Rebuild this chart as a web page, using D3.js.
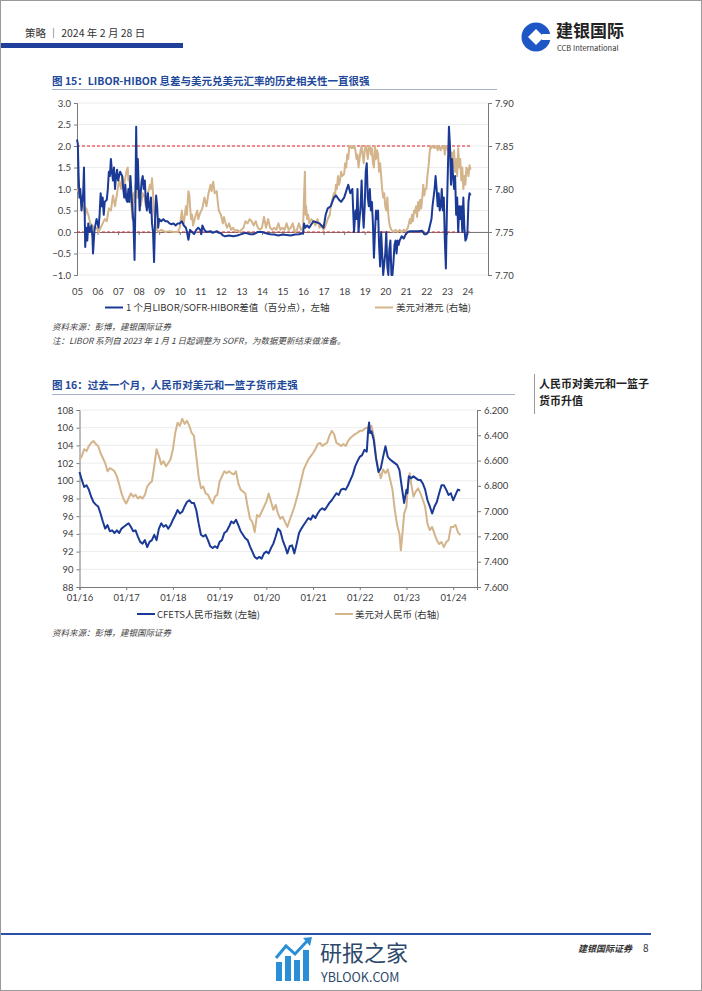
<!DOCTYPE html>
<html><head><meta charset="utf-8">
<script src="https://cdn.jsdelivr.net/npm/d3@7"></script>
<style>
body{margin:0;background:#fff;}
svg{display:block;}
text{font-family:"Noto Sans CJK SC","Noto Sans",sans-serif;}
.ax text{font-family:Lato,"Noto Sans",sans-serif;font-size:9.5px;fill:#404040;}
.ax path,.ax line{stroke:#7a7a7a;}
</style></head><body>
<svg id="page" width="702" height="991"></svg>
<script>
// ---------- Chart 15 data ----------
const c1TickYears = [2005,2006,2007,2008,2009,2010,2011,2012,2013,2014,2015,2016,2017,2018,2019,2020,2021,2022,2023,2024];
const c1TickLabels = ["05","06","07","08","09","10","11","12","13","14","15","16","17","18","19","20","21","22","23","24"];
const c1LeftTicks = [-1.0,-0.5,0.0,0.5,1.0,1.5,2.0,2.5,3.0];
const c1RightTicks = [7.70,7.75,7.80,7.85,7.90];
const c1RefLines = [2.0, 0.0];

const spreadT = [2005.00,2005.04,2005.08,2005.12,2005.16,2005.22,2005.30,2005.34,2005.37,2005.40,2005.45,2005.50,2005.55,2005.62,2005.70,2005.75,2005.78,2005.85,2005.95,
2006.05,2006.10,2006.15,2006.20,2006.25,2006.30,2006.35,2006.45,2006.50,2006.55,2006.60,2006.65,2006.70,2006.75,2006.80,2006.85,2006.90,2006.95,
2007.00,2007.10,2007.20,2007.25,2007.30,2007.35,2007.40,2007.45,2007.50,2007.55,2007.60,2007.65,2007.70,2007.75,2007.80,2007.84,2007.88,2007.92,2007.96,
2008.00,2008.05,2008.10,2008.15,2008.20,2008.25,2008.30,2008.35,2008.40,2008.45,2008.50,2008.55,2008.60,2008.65,2008.70,2008.75,2008.80,2008.85,2008.90,2008.95,
2009.00,2009.10,2009.20,2009.30,2009.40,2009.50,2009.60,2009.70,2009.80,2009.90,
2010.00,2010.10,2010.20,2010.30,2010.35,2010.42,2010.50,2010.60,2010.70,2010.80,2010.90,
2011.00,2011.05,2011.10,2011.20,2011.30,2011.50,2011.60,2011.80,2011.90,
2012.00,2012.10,2012.20,2012.40,2012.60,2012.80,2013.00,2013.20,2013.40,2013.60,2013.80,
2014.00,2014.20,2014.40,2014.60,2014.80,2015.00,2015.20,2015.40,2015.60,2015.80,
2016.00,2016.05,2016.10,2016.20,2016.30,2016.50,2016.80,2017.00,2017.10,2017.20,2017.35,2017.50,2017.60,2017.75,2017.85,
2018.00,2018.10,2018.20,2018.30,2018.40,2018.48,2018.55,2018.60,2018.65,2018.70,2018.80,2018.85,2018.90,2018.95,
2019.00,2019.05,2019.10,2019.15,2019.20,2019.25,2019.30,2019.35,2019.40,2019.45,2019.50,2019.55,2019.60,2019.65,2019.70,2019.75,2019.80,2019.85,2019.90,
2020.00,2020.05,2020.10,2020.15,2020.20,2020.25,2020.30,2020.35,2020.40,2020.45,2020.50,2020.55,2020.60,2020.65,2020.70,2020.80,2020.90,
2021.00,2021.10,2021.20,2021.40,2021.60,2021.80,2021.90,
2022.00,2022.10,2022.15,2022.25,2022.30,2022.40,2022.45,2022.50,2022.55,2022.60,2022.65,2022.70,2022.75,2022.80,2022.85,2022.90,2022.95,
2023.00,2023.05,2023.10,2023.15,2023.20,2023.25,2023.30,2023.35,2023.40,2023.45,2023.50,2023.55,2023.60,2023.65,2023.70,2023.75,2023.80,2023.85,2023.90,2023.95,
2024.00,2024.05,2024.10,2024.15];
const spreadV = [2.15,2.05,1.3,0.8,1.0,0.5,0.9,1.5,0.6,-0.35,0.1,-0.2,0.2,0.0,0.15,-0.1,-0.5,0.05,0.3,
0.1,0.4,0.9,0.6,0.8,0.4,0.7,0.75,1.0,1.4,1.3,1.7,1.4,1.2,1.5,1.0,1.3,1.45,
1.2,1.4,1.3,1.0,0.8,1.1,0.75,0.7,1.0,0.7,1.3,0.9,0.5,0.2,-0.65,0.6,2.45,1.0,1.7,
1.1,0.5,0.9,1.2,1.3,1.0,1.2,0.7,0.5,0.9,0.6,0.45,0.8,0.2,0.0,-0.7,0.3,0.85,0.6,0.1,
0.3,0.25,0.3,0.25,0.25,0.2,0.18,0.2,0.15,0.2,
0.2,0.25,0.15,0.1,0.0,-0.18,0.05,0.0,-0.05,0.05,0.1,
0.05,-0.05,0.15,0.05,0.0,0.02,-0.02,0.02,-0.02,
-0.03,-0.08,-0.1,-0.08,-0.1,-0.08,-0.05,-0.02,-0.05,-0.05,0.0,
0.0,-0.03,-0.05,-0.06,-0.08,-0.06,-0.07,-0.08,-0.06,-0.05,
-0.03,0.2,0.1,0.15,0.1,0.25,0.2,0.1,0.4,0.55,0.6,0.8,0.85,0.75,0.7,
0.8,0.95,1.1,0.9,1.0,0.0,0.5,0.3,1.0,0.0,0.6,1.2,0.5,0.1,
0.6,1.4,1.6,0.8,0.6,1.0,0.5,0.7,0.2,-0.6,0.0,0.5,0.3,0.5,-0.3,-0.8,0.0,-0.5,-1.0,
-0.5,0.0,-0.8,-1.0,-0.4,-0.2,-1.0,-1.0,-0.7,-0.3,-0.2,-0.5,-0.2,-0.3,-0.2,-0.1,-0.15,
-0.05,0.0,0.02,0.02,0.02,0.03,-0.05,
-0.05,0.0,0.1,0.3,0.6,1.0,1.3,1.0,0.6,0.9,0.5,0.6,1.0,0.5,0.8,-0.2,-0.85,
0.5,1.5,2.45,2.0,1.1,1.7,1.3,1.0,1.3,0.4,0.8,0.0,0.6,0.3,0.6,0.0,0.8,0.1,-0.2,-0.15,
0.0,0.7,0.9,0.85];

const hkdT = [2005.00,2005.05,2005.15,2005.20,2005.30,2005.40,2005.45,2005.55,2005.65,2005.75,2005.85,2005.95,
2006.05,2006.15,2006.25,2006.35,2006.45,2006.55,2006.65,2006.75,2006.85,2006.95,
2007.05,2007.15,2007.20,2007.30,2007.40,2007.47,2007.50,2007.55,2007.60,2007.65,2007.70,2007.75,2007.80,2007.85,2007.90,2007.95,
2008.00,2008.10,2008.20,2008.30,2008.35,2008.45,2008.55,2008.60,2008.65,2008.70,2008.75,2008.80,2008.85,2008.95,
2009.10,2009.30,2009.50,2009.70,2009.90,
2010.00,2010.10,2010.15,2010.20,2010.30,2010.35,2010.42,2010.47,2010.50,2010.55,2010.60,2010.65,2010.75,2010.85,2010.90,
2011.00,2011.10,2011.20,2011.30,2011.40,2011.50,2011.55,2011.63,2011.70,2011.80,2011.85,2011.90,
2012.00,2012.10,2012.15,2012.20,2012.30,2012.40,2012.50,2012.60,2012.70,2012.80,2012.90,
2013.00,2013.10,2013.20,2013.30,2013.40,2013.50,2013.60,2013.70,2013.80,2013.90,
2014.00,2014.10,2014.20,2014.30,2014.40,2014.50,2014.60,2014.70,2014.80,2014.90,
2015.00,2015.10,2015.20,2015.30,2015.40,2015.50,2015.60,2015.70,2015.80,2015.90,
2016.00,2016.04,2016.09,2016.12,2016.15,2016.20,2016.25,2016.30,2016.40,2016.50,2016.60,2016.70,2016.80,2016.90,
2017.00,2017.10,2017.20,2017.30,2017.35,2017.40,2017.50,2017.55,2017.60,2017.65,2017.70,2017.75,2017.80,2017.85,2017.90,
2018.00,2018.05,2018.10,2018.15,2018.20,2018.25,2018.30,2018.35,2018.40,2018.45,2018.50,2018.55,2018.60,2018.65,2018.70,2018.75,2018.80,2018.85,2018.90,2018.95,
2019.00,2019.05,2019.10,2019.15,2019.20,2019.25,2019.30,2019.35,2019.40,2019.45,2019.50,2019.55,2019.60,2019.65,2019.70,2019.75,2019.80,2019.85,2019.90,2019.95,
2020.00,2020.05,2020.10,2020.15,2020.20,2020.25,2020.30,2020.40,2020.50,2020.60,2020.70,2020.80,2020.90,
2021.00,2021.10,2021.20,2021.25,2021.30,2021.35,2021.40,2021.45,2021.50,2021.55,2021.60,2021.65,2021.70,2021.75,2021.80,2021.85,2021.90,2021.95,
2022.00,2022.05,2022.10,2022.15,2022.20,2022.25,2022.30,2022.40,2022.50,2022.55,2022.60,2022.70,2022.75,2022.80,2022.85,2022.90,2022.95,
2023.00,2023.05,2023.10,2023.15,2023.20,2023.25,2023.30,2023.35,2023.40,2023.45,2023.50,2023.55,2023.60,2023.65,2023.70,2023.75,2023.80,2023.85,2023.90,2023.95,
2024.00,2024.05,2024.10,2024.15];
const hkdV = [7.800,7.7975,7.795,7.785,7.780,7.770,7.7775,7.770,7.760,7.7575,7.7525,7.755,
7.750,7.755,7.760,7.765,7.7625,7.7775,7.775,7.7925,7.780,7.795,
7.810,7.800,7.815,7.805,7.820,7.825,7.810,7.815,7.795,7.780,7.765,7.795,7.785,7.805,7.810,7.790,
7.800,7.780,7.795,7.790,7.780,7.795,7.805,7.800,7.8125,7.795,7.775,7.765,7.755,7.750,
7.7525,7.750,7.751,7.750,7.750,
7.755,7.775,7.765,7.760,7.780,7.770,7.7975,7.7925,7.780,7.765,7.770,7.7575,7.7675,7.775,7.765,
7.7725,7.7775,7.790,7.780,7.795,7.805,7.7975,7.8085,7.795,7.7975,7.785,7.775,
7.770,7.760,7.7675,7.7625,7.755,7.760,7.7525,7.755,7.751,7.7525,7.750,
7.7525,7.755,7.7625,7.760,7.765,7.7625,7.7575,7.7625,7.755,7.7525,
7.755,7.7675,7.755,7.765,7.755,7.7525,7.755,7.7525,7.760,7.7525,
7.755,7.7525,7.760,7.7525,7.755,7.760,7.750,7.7525,7.760,7.7525,
7.755,7.785,7.820,7.770,7.780,7.765,7.770,7.760,7.765,7.7625,7.7575,7.765,7.755,7.7575,
7.7525,7.7575,7.765,7.770,7.780,7.785,7.795,7.790,7.805,7.800,7.815,7.805,7.810,7.820,7.815,
7.8175,7.830,7.825,7.840,7.835,7.850,7.850,7.8475,7.850,7.8475,7.850,7.845,7.835,7.840,7.825,7.835,7.845,7.850,7.840,7.830,
7.845,7.850,7.845,7.835,7.850,7.850,7.840,7.8475,7.830,7.825,7.850,7.835,7.845,7.840,7.820,7.830,7.815,7.800,7.790,7.795,
7.780,7.775,7.790,7.770,7.760,7.755,7.7525,7.750,7.7525,7.750,7.7525,7.750,7.7525,
7.751,7.755,7.765,7.760,7.770,7.7625,7.775,7.7725,7.780,7.7675,7.785,7.775,7.7875,7.7775,7.790,7.805,7.7925,7.800,
7.800,7.815,7.825,7.840,7.850,7.8475,7.850,7.8475,7.850,7.845,7.850,7.845,7.850,7.8475,7.850,7.840,7.850,
7.850,7.845,7.850,7.8475,7.830,7.8425,7.825,7.845,7.820,7.835,7.815,7.8475,7.825,7.835,7.810,7.825,7.800,7.815,7.805,7.825,
7.8225,7.815,7.8275,7.8225];

// ---------- Chart 16 data ----------
const c2TickYears = [2016,2017,2018,2019,2020,2021,2022,2023,2024];
const c2TickLabels = ["01/16","01/17","01/18","01/19","01/20","01/21","01/22","01/23","01/24"];
const c2LeftTicks = [88,90,92,94,96,98,100,102,104,106,108];
const c2RightTicks = [6.2,6.4,6.6,6.8,7.0,7.2,7.4,7.6];

const cfetsT = [2016.00,2016.05,2016.10,2016.15,2016.20,2016.25,2016.30,2016.35,2016.40,2016.45,2016.50,2016.55,2016.60,2016.65,2016.70,2016.75,2016.80,2016.85,2016.90,2016.95,
2017.00,2017.05,2017.10,2017.15,2017.20,2017.25,2017.30,2017.35,2017.40,2017.45,2017.50,2017.55,2017.60,2017.65,2017.70,2017.75,2017.80,2017.85,2017.90,2017.95,
2018.00,2018.05,2018.10,2018.15,2018.20,2018.25,2018.30,2018.35,2018.40,2018.45,2018.50,2018.55,2018.60,2018.65,2018.70,2018.75,2018.80,2018.85,2018.90,2018.95,
2019.00,2019.05,2019.10,2019.15,2019.20,2019.25,2019.30,2019.35,2019.40,2019.45,2019.50,2019.55,2019.60,2019.65,2019.70,2019.75,2019.80,2019.85,2019.90,2019.95,
2020.00,2020.05,2020.10,2020.15,2020.20,2020.25,2020.30,2020.35,2020.40,2020.45,2020.50,2020.55,2020.60,2020.65,2020.70,2020.75,2020.80,2020.85,2020.90,2020.95,
2021.00,2021.05,2021.10,2021.15,2021.20,2021.25,2021.30,2021.35,2021.40,2021.45,2021.50,2021.55,2021.60,2021.65,2021.70,2021.75,2021.80,2021.85,2021.90,2021.95,
2022.00,2022.05,2022.10,2022.15,2022.18,2022.20,2022.22,2022.25,2022.30,2022.35,2022.40,2022.45,2022.50,2022.55,2022.60,2022.65,2022.70,2022.75,2022.80,2022.85,2022.90,2022.95,
2023.00,2023.02,2023.05,2023.10,2023.15,2023.20,2023.25,2023.30,2023.35,2023.40,2023.45,2023.50,2023.55,2023.60,2023.65,2023.70,2023.75,2023.80,2023.85,2023.90,2023.95,
2024.00,2024.05,2024.10,2024.15];
const cfetsV = [101.0,100.1,99.3,99.5,99.0,98.2,97.6,97.3,97.1,96.3,95.4,94.6,95.0,94.3,94.4,94.1,94.4,94.1,94.6,94.8,
95.0,95.2,94.8,94.3,94.4,93.7,93.1,92.9,93.3,92.5,93.1,93.3,93.9,93.3,94.6,95.2,94.8,95.0,94.6,95.0,
95.6,96.1,96.7,96.3,96.5,97.1,97.6,97.8,97.5,97.5,96.7,95.2,93.9,93.7,93.9,93.3,92.6,92.4,92.6,92.4,
93.1,93.3,94.1,94.3,94.8,95.4,95.2,95.6,95.0,94.3,93.9,93.5,93.3,92.6,92.0,91.4,91.2,91.4,91.2,91.8,
92.0,91.8,92.4,92.9,93.7,94.6,94.3,93.3,92.6,91.8,92.6,92.7,91.8,92.9,94.1,94.6,95.0,95.4,95.8,95.6,
96.1,95.8,96.3,96.7,96.9,96.7,97.1,97.5,97.8,98.2,98.6,98.4,99.0,99.1,99.0,99.5,100.1,100.7,101.6,102.2,
102.7,102.9,103.5,103.3,105.7,106.6,105.4,105.6,104.6,102.5,101.0,101.4,102.7,103.9,102.7,102.4,102.2,102.0,101.8,101.2,99.3,97.5,
99.0,98.6,100.5,100.3,100.5,100.3,100.1,100.1,99.7,99.0,97.8,97.1,96.3,97.1,97.6,98.6,99.5,99.5,99.0,98.4,98.6,
97.8,98.4,99.0,98.9];

const cnyT = [2016.00,2016.05,2016.10,2016.15,2016.20,2016.25,2016.30,2016.35,2016.40,2016.45,2016.50,2016.55,2016.60,2016.65,2016.70,2016.75,2016.80,2016.85,2016.90,2016.95,
2017.00,2017.05,2017.10,2017.15,2017.20,2017.25,2017.30,2017.35,2017.40,2017.45,2017.50,2017.55,2017.60,2017.65,2017.70,2017.75,2017.80,2017.85,2017.90,2017.95,
2018.00,2018.05,2018.10,2018.15,2018.20,2018.25,2018.30,2018.35,2018.40,2018.45,2018.50,2018.55,2018.60,2018.65,2018.70,2018.75,2018.80,2018.85,2018.90,2018.95,
2019.00,2019.05,2019.10,2019.15,2019.20,2019.25,2019.30,2019.35,2019.40,2019.45,2019.50,2019.55,2019.60,2019.65,2019.70,2019.75,2019.80,2019.85,2019.90,2019.95,
2020.00,2020.05,2020.10,2020.15,2020.20,2020.25,2020.30,2020.35,2020.40,2020.45,2020.50,2020.55,2020.60,2020.65,2020.70,2020.75,2020.80,2020.85,2020.90,2020.95,
2021.00,2021.05,2021.10,2021.15,2021.20,2021.25,2021.30,2021.35,2021.40,2021.45,2021.50,2021.55,2021.60,2021.65,2021.70,2021.75,2021.80,2021.85,2021.90,2021.95,
2022.00,2022.05,2022.10,2022.15,2022.20,2022.25,2022.30,2022.35,2022.40,2022.45,2022.50,2022.55,2022.60,2022.65,2022.70,2022.75,2022.80,2022.85,2022.88,2022.92,2022.95,
2023.00,2023.03,2023.07,2023.10,2023.15,2023.20,2023.25,2023.30,2023.35,2023.40,2023.45,2023.50,2023.55,2023.60,2023.65,2023.70,2023.75,2023.80,2023.85,2023.90,2023.95,
2024.00,2024.05,2024.10,2024.15];
const cnyV = [6.59,6.565,6.51,6.525,6.485,6.46,6.445,6.47,6.485,6.54,6.58,6.62,6.685,6.66,6.67,6.685,6.725,6.79,6.86,6.91,
6.94,6.90,6.86,6.885,6.87,6.90,6.885,6.90,6.87,6.805,6.78,6.765,6.645,6.51,6.565,6.63,6.605,6.645,6.62,6.59,
6.51,6.38,6.30,6.325,6.27,6.31,6.285,6.325,6.38,6.405,6.565,6.725,6.82,6.805,6.86,6.87,6.91,6.94,6.885,6.87,
6.765,6.725,6.685,6.70,6.685,6.70,6.71,6.685,6.78,6.83,6.845,6.86,6.965,7.06,7.085,7.165,7.03,7.045,7.005,6.965,
6.925,6.86,6.925,6.99,6.95,7.02,7.06,7.045,7.085,7.125,7.07,7.02,6.965,6.90,6.83,6.75,6.67,6.63,6.59,6.565,
6.54,6.51,6.47,6.46,6.485,6.47,6.46,6.405,6.365,6.39,6.46,6.47,6.485,6.47,6.485,6.445,6.42,6.405,6.39,6.38,
6.365,6.365,6.35,6.34,6.34,6.325,6.405,6.58,6.67,6.74,6.67,6.70,6.67,6.75,6.83,6.99,7.11,7.18,7.31,7.15,7.02,
6.965,6.805,6.70,6.78,6.885,6.845,6.82,6.86,6.91,6.965,7.10,7.15,7.125,7.18,7.23,7.26,7.245,7.285,7.245,7.23,7.125,
7.125,7.11,7.165,7.19];

// ---------- colours ----------
const BLUE = "#1b3a96", TAN = "#d3b48b", RED = "#e3222b", TITLE = "#22489a";

const svg = d3.select("#page");
svg.append("rect").attr("x",0.5).attr("y",0.5).attr("width",701).attr("height",990)
  .attr("fill","#fff").attr("stroke","#9a9a9a");

// ---------- header ----------
svg.append("text").attr("x",25).attr("y",37).attr("font-size",10.5).attr("fill","#333")
  .text("策略 ｜ 2024 年 2 月 28 日");
svg.append("rect").attr("x",1).attr("y",43).attr("width",182).attr("height",5).attr("fill","#1f3f9a");
// logo
const lg = svg.append("g").attr("transform","translate(536,37)");
lg.append("circle").attr("r",14.5).attr("fill","#1f56c6");
lg.append("path").attr("d","M0,-8 L8,0 L0,8 L-8,0 Z").attr("fill","#fff");
lg.append("rect").attr("x",6).attr("y",-3).attr("width",10).attr("height",6).attr("fill","#fff");
svg.append("text").attr("x",556).attr("y",36.5).attr("font-size",17).attr("font-weight","bold").attr("fill","#222")
  .text("建银国际");
svg.append("text").attr("x",557).attr("y",51).attr("font-size",7.5).attr("font-family","Roboto, sans-serif").attr("fill","#333")
  .text("CCB International");

// ---------- Chart 15 ----------
svg.append("text").attr("x",52).attr("y",85).attr("font-size",10.5).attr("font-weight","bold").attr("fill",TITLE)
  .text("图 15：LIBOR-HIBOR 息差与美元兑美元汇率的历史相关性一直很强");
svg.append("line").attr("x1",52).attr("x2",497).attr("y1",89.5).attr("y2",89.5).attr("stroke","#a5b0cc");

const x1 = d3.scaleLinear().domain([2005,2025]).range([77,488]);
const yL1 = d3.scaleLinear().domain([-1,3]).range([275,103]);
const yR1 = d3.scaleLinear().domain([7.70,7.90]).range([275,103]);

const g1 = svg.append("g");
g1.selectAll("line.grid").data(c1LeftTicks).join("line").attr("class","grid")
  .attr("x1",77).attr("x2",488).attr("y1",d=>yL1(d)).attr("y2",d=>yL1(d))
  .attr("stroke","#ececec");

const xAx1 = g1.append("g").attr("class","ax").attr("transform",`translate(0,${yL1(0)})`)
  .call(d3.axisBottom(x1).tickValues(c1TickYears).tickSize(3).tickFormat(""));
xAx1.select(".domain").attr("stroke","#222");
xAx1.selectAll(".tick line").attr("stroke","#666");
g1.append("g").attr("class","ax").attr("transform",`translate(0,${yL1(-1)+10})`)
  .call(d3.axisBottom(x1).tickValues(c1TickYears).tickSize(0).tickFormat((d,i)=>c1TickLabels[i]))
  .call(a=>a.select(".domain").remove());
g1.append("g").attr("class","ax").attr("transform","translate(77,0)")
  .call(d3.axisLeft(yL1).tickValues(c1LeftTicks).tickSize(3).tickFormat(d3.format(".1f")));
g1.append("g").attr("class","ax").attr("transform","translate(488,0)")
  .call(d3.axisRight(yR1).tickValues(c1RightTicks).tickSize(4).tickFormat(d3.format(".2f")));

const xEnd1 = x1(2024.15);
g1.selectAll("line.ref").data(c1RefLines).join("line").attr("class","ref")
  .attr("x1",77).attr("x2",xEnd1).attr("y1",d=>yL1(d)).attr("y2",d=>yL1(d))
  .attr("stroke",RED).attr("stroke-width",1.2).attr("stroke-dasharray","3,2");

g1.append("path").datum(hkdT.map((t,i)=>[t,hkdV[i]]))
  .attr("fill","none").attr("stroke",TAN).attr("stroke-width",2).attr("stroke-linejoin","round")
  .attr("d",d3.line().x(d=>x1(d[0])).y(d=>yR1(d[1])));
g1.append("path").datum(spreadT.map((t,i)=>[t,spreadV[i]]))
  .attr("fill","none").attr("stroke",BLUE).attr("stroke-width",2).attr("stroke-linejoin","round")
  .attr("d",d3.line().x(d=>x1(d[0])).y(d=>yL1(d[1])));

// legend 1
const leg1 = [
  {x:105, c:BLUE, t:"1 个月LIBOR/SOFR-HIBOR差值（百分点），左轴"},
  {x:375, c:TAN, t:"美元对港元 (右轴)"}];
leg1.forEach(l=>{
  svg.append("line").attr("x1",l.x).attr("x2",l.x+18).attr("y1",307.5).attr("y2",307.5).attr("stroke",l.c).attr("stroke-width",2);
  svg.append("text").attr("x",l.x+21).attr("y",311).attr("font-size",9.5).attr("fill","#333").text(l.t);
});
svg.append("text").attr("x",52).attr("y",330).attr("font-size",8.5).attr("font-style","italic").attr("fill","#444")
  .text("资料来源：彭博，建银国际证券");
svg.append("text").attr("x",52).attr("y",344).attr("font-size",8.5).attr("font-style","italic").attr("fill","#444")
  .text("注：LIBOR 系列自 2023 年 1 月 1 日起调整为 SOFR，为数据更新结束做准备。");

// ---------- Chart 16 ----------
svg.append("text").attr("x",52).attr("y",389).attr("font-size",10.5).attr("font-weight","bold").attr("fill",TITLE)
  .text("图 16：过去一个月，人民币对美元和一篮子货币走强");
svg.append("line").attr("x1",52).attr("x2",515).attr("y1",394.5).attr("y2",394.5).attr("stroke","#a5b0cc");
svg.append("line").attr("x1",534.5).attr("x2",534.5).attr("y1",374).attr("y2",414).attr("stroke","#9a9a9a");
svg.append("text").attr("x",539).attr("y",388).attr("font-size",11).attr("font-weight","bold").attr("fill","#222").text("人民币对美元和一篮子");
svg.append("text").attr("x",539).attr("y",405).attr("font-size",11).attr("font-weight","bold").attr("fill","#222").text("货币升值");

const x2 = d3.scaleLinear().domain([2016,2024.51]).range([79.5,477]);
const yL2 = d3.scaleLinear().domain([88,108]).range([587,410]);
const yR2 = d3.scaleLinear().domain([7.6,6.2]).range([587,410]);

const g2 = svg.append("g");
g2.selectAll("line.grid").data(c2LeftTicks.slice(1)).join("line").attr("class","grid")
  .attr("x1",79.5).attr("x2",477).attr("y1",d=>yL2(d)).attr("y2",d=>yL2(d)).attr("stroke","#ececec");
g2.append("g").attr("class","ax").attr("transform","translate(0,587)")
  .call(d3.axisBottom(x2).tickValues(c2TickYears).tickSize(3).tickPadding(4).tickFormat((d,i)=>c2TickLabels[i]));
g2.append("g").attr("class","ax").attr("transform","translate(79.5,0)")
  .call(d3.axisLeft(yL2).tickValues(c2LeftTicks).tickSize(3).tickFormat(d3.format("d")));
g2.append("g").attr("class","ax").attr("transform","translate(477,0)")
  .call(d3.axisRight(yR2).tickValues(c2RightTicks).tickSize(4).tickFormat(d3.format(".3f")));

g2.append("path").datum(cnyT.map((t,i)=>[t,cnyV[i]]))
  .attr("fill","none").attr("stroke",TAN).attr("stroke-width",2).attr("stroke-linejoin","round")
  .attr("d",d3.line().x(d=>x2(d[0])).y(d=>yR2(d[1])));
g2.append("path").datum(cfetsT.map((t,i)=>[t,cfetsV[i]]))
  .attr("fill","none").attr("stroke",BLUE).attr("stroke-width",2).attr("stroke-linejoin","round")
  .attr("d",d3.line().x(d=>x2(d[0])).y(d=>yL2(d[1])));

const leg2 = [
  {x:137, c:BLUE, t:"CFETS人民币指数 (左轴)"},
  {x:335, c:TAN, t:"美元对人民币 (右轴)"}];
leg2.forEach(l=>{
  svg.append("line").attr("x1",l.x).attr("x2",l.x+18).attr("y1",614).attr("y2",614).attr("stroke",l.c).attr("stroke-width",2);
  svg.append("text").attr("x",l.x+20).attr("y",617.5).attr("font-size",9.5).attr("fill","#333").text(l.t);
});
svg.append("text").attr("x",52).attr("y",636).attr("font-size",8.5).attr("font-style","italic").attr("fill","#444")
  .text("资料来源：彭博，建银国际证券");

// ---------- footer ----------
svg.append("rect").attr("x",1).attr("y",933).attr("width",650).attr("height",2).attr("fill","#2a50a8");
svg.append("text").attr("x",578).attr("y",952).attr("font-size",9).attr("font-style","italic").attr("font-weight","bold").attr("fill","#333").text("建银国际证券");
svg.append("text").attr("x",643).attr("y",952).attr("font-size",10).attr("font-family","Roboto, sans-serif").attr("fill","#333").text("8");
// watermark
const wm = svg.append("g");
[[276,962,6],[285,956,6],[294,960,6],[303,950,6]].forEach(b=>{
  wm.append("rect").attr("x",b[0]).attr("y",b[1]).attr("width",b[2]).attr("height",981-b[1]).attr("fill","#2a8fd6");
});
wm.append("path").attr("d","M276,958 L286,946 L295,954 L308,940").attr("fill","none").attr("stroke","#2a8fd6").attr("stroke-width",3);
wm.append("path").attr("d","M303,938 L312,937 L310,946 Z").attr("fill","#2a8fd6");
wm.append("text").attr("x",320).attr("y",961).attr("font-size",22).attr("fill","#2e4a6b").text("研报之家");
wm.append("text").attr("x",321).attr("y",982).attr("font-size",12.5).attr("font-family","'Open Sans', sans-serif").attr("fill","#2e4a6b").text("YBLOOK.COM");
</script>
</body></html>
